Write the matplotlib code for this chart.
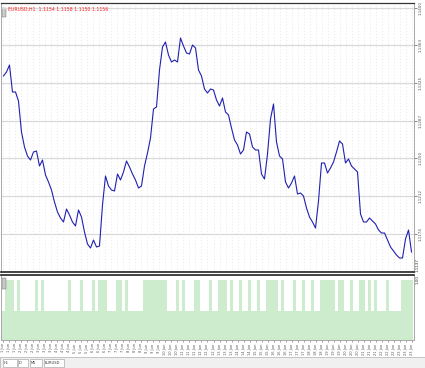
import numpy as np
import matplotlib
matplotlib.use("Agg")
import matplotlib.pyplot as plt
from matplotlib.patches import Rectangle

# closing price per bar
close = [1.1332, 1.1336, 1.1343, 1.1316, 1.1316, 1.1307, 1.1276, 1.1261, 1.1252, 1.1248,
         1.1256, 1.1257, 1.1242, 1.1248, 1.1233, 1.1226, 1.1218, 1.1206, 1.1196, 1.1190,
         1.1186, 1.1199, 1.1193, 1.1186, 1.1182, 1.1198, 1.1191, 1.1176, 1.1164, 1.1160,
         1.1168, 1.1161, 1.1162, 1.1203, 1.1232, 1.1222, 1.1218, 1.1217, 1.1234, 1.1228,
         1.1236, 1.1247, 1.1241, 1.1234, 1.1228, 1.1220, 1.1222, 1.1242, 1.1255, 1.1270,
         1.1299, 1.1301, 1.1338, 1.1361, 1.1366, 1.1353, 1.1346, 1.1348, 1.1346, 1.1370,
         1.1362, 1.1355, 1.1354, 1.1363, 1.1360, 1.1338, 1.1332, 1.1319, 1.1315, 1.1319,
         1.1318, 1.1308, 1.1302, 1.1310, 1.1296, 1.1293, 1.1280, 1.1268, 1.1263, 1.1254,
         1.1258, 1.1276, 1.1274, 1.1261, 1.1258, 1.1258, 1.1234, 1.1229, 1.1254, 1.1289,
         1.1304, 1.1266, 1.1252, 1.1249, 1.1226, 1.1220, 1.1225, 1.1232, 1.1214, 1.1215,
         1.1212, 1.1200, 1.1191, 1.1186, 1.1180, 1.1207, 1.1245, 1.1245, 1.1235, 1.1240,
         1.1246, 1.1256, 1.1267, 1.1264, 1.1245, 1.1249, 1.1242, 1.1239, 1.1236, 1.1194,
         1.1186, 1.1186, 1.1190, 1.1187, 1.1184, 1.1178, 1.1175, 1.1175, 1.1168, 1.1161,
         1.1157, 1.1153, 1.1150, 1.1150, 1.1169, 1.1178, 1.1156]

# indicator: 1 = high state, 0.48 = low state
H, L = 1.0, 0.48
signal = [L, H, H, H, L, H, L, L, L, L, L, H, L, H, L, L, L, L, L, L,
          L, L, H, L, L, L, H, L, L, L, H, L, H, H, H, L, L, L, H, H,
          L, H, L, L, L, L, L, H, H, H, H, H, H, H, H, L, L, L, H, L,
          H, L, L, L, H, H, L, L, L, H, L, L, H, H, H, L, H, L, L, H,
          L, L, H, L, L, H, L, L, H, H, H, H, L, H, L, L, L, H, L, L,
          H, L, L, H, L, L, H, H, H, H, H, L, H, H, L, L, H, L, L, H,
          H, L, H, L, H, L, L, L, H, L, L, L, L, H, H, H, H]

price_ticks = [1.1400, 1.1363, 1.1325, 1.1287, 1.1250, 1.1212, 1.1174]
price_labels = ["1.1400", "1.1363", "1.1325", "1.1287", "1.1250", "1.1212", "1.1174"]
price_bottom = 1.1137

tick_days = [1, 1, 1, 2, 2, 2, 3, 3, 3, 4, 4, 4, 5, 5, 5, 6, 6, 6, 7, 7, 7, 8, 8, 8,
             9, 9, 9, 10, 10, 10, 11, 11, 11, 12, 12, 12, 13, 13, 13, 14, 14, 14, 15, 15, 15,
             16, 16, 16, 17, 17, 17, 18, 18, 18, 19, 19, 19, 20, 20, 20, 21, 21, 21, 22, 22, 22,
             23, 23, 23]
tick_labels = [f"{d} Jun" for d in tick_days]

W, Hh = 425, 368
fig = plt.figure(figsize=(W / 100, Hh / 100), dpi=100)
fig.patch.set_facecolor("white")

def frac(x0, y0, x1, y1):
    return [x0 / W, 1 - y1 / Hh, (x1 - x0) / W, (y1 - y0) / Hh]

n = len(signal)
xs = np.arange(len(close))
xlim = (-0.83, n - 0.17)

# price panel
ax = fig.add_axes(frac(1, 3, 414, 272))
ax.plot(xs, close, color="#2020b0", lw=0.8)
ax.set_xlim(*xlim)
ax.set_ylim(1.1136, 1.1405)
ax.set_yticks(price_ticks)
ax.yaxis.tick_right()
ax.set_yticklabels(price_labels, rotation=90, fontsize=3, va="center", color="#333333")
ax.tick_params(axis="y", length=2, pad=1, width=0.5, colors="#555555")
ax.set_xticks(np.arange(0, n, 2))
ax.tick_params(axis="x", length=0, labelbottom=False)
ax.grid(axis="y", color="#d9d9d9", lw=0.9)
ax.grid(axis="x", color="#e0e0e0", lw=0.5, ls=(0, (1.5, 3)))
ax.text(1.004, 0.0, f"{price_bottom:.4f}", transform=ax.transAxes, rotation=90,
        fontsize=3, va="bottom", ha="left", color="#333333")
for s in ["left", "right"]:
    ax.spines[s].set_color("#a8a8a8")
    ax.spines[s].set_linewidth(0.7)
ax.spines["top"].set_color("#333333")
ax.spines["top"].set_linewidth(0.9)
ax.spines["bottom"].set_color("#222222")
ax.spines["bottom"].set_linewidth(1.2)

# title line in red
ax.text(0.017, 0.985, "EURUSD,H1  1.1154 1.1158 1.1150 1.1156", transform=ax.transAxes,
        fontsize=3.3, color="#ff2020", va="top", ha="left")
ax.add_patch(Rectangle((0.002, 0.948), 0.01, 0.035, transform=ax.transAxes,
                       facecolor="#c8c8c8", edgecolor="#666666", lw=0.3))

# indicator panel
ax2 = fig.add_axes(frac(1, 275, 414, 340))
ax2.bar(np.arange(n), signal, width=0.75, color="#cdeccd", edgecolor="none")
ax2.set_xlim(*xlim)
ax2.set_ylim(0, 1.083)
ax2.set_yticks([])
ax2.set_xticks(np.arange(0, n, 2))
ax2.set_xticklabels(tick_labels[:len(np.arange(0, n, 2))], rotation=90, fontsize=2.6,
                    color="#333333")
ax2.tick_params(axis="x", length=1.5, pad=1, width=0.4, colors="#555555")
for s in ["left", "right", "bottom"]:
    ax2.spines[s].set_color("#a8a8a8")
    ax2.spines[s].set_linewidth(0.7)
ax2.spines["top"].set_color("#222222")
ax2.spines["top"].set_linewidth(1.2)
ax2.text(1.004, 1.0, "1.00", transform=ax2.transAxes, rotation=90, fontsize=3,
         va="top", ha="left", color="#333333")
ax2.add_patch(Rectangle((0.002, 0.78), 0.01, 0.17, transform=ax2.transAxes,
                        facecolor="#c8c8c8", edgecolor="#666666", lw=0.3))

# bottom tab strip
fig.patches.append(Rectangle((0, 0), 1, 11 / Hh, transform=fig.transFigure,
                             facecolor="#f0f0f0", edgecolor="#b0b0b0", lw=0.5))
for x0, w, lab in [(3, 14, "H1"), (18, 10, "D"), (30, 12, "M5"), (44, 20, "EURUSD")]:
    fig.patches.append(Rectangle((x0 / W, 1 / Hh), w / W, 8 / Hh, transform=fig.transFigure,
                                 facecolor="white", edgecolor="#999999", lw=0.4))
    fig.text((x0 + 1) / W, 5 / Hh, lab, fontsize=2.6, va="center", color="#333333")

fig.savefig("out.png", dpi=100)
